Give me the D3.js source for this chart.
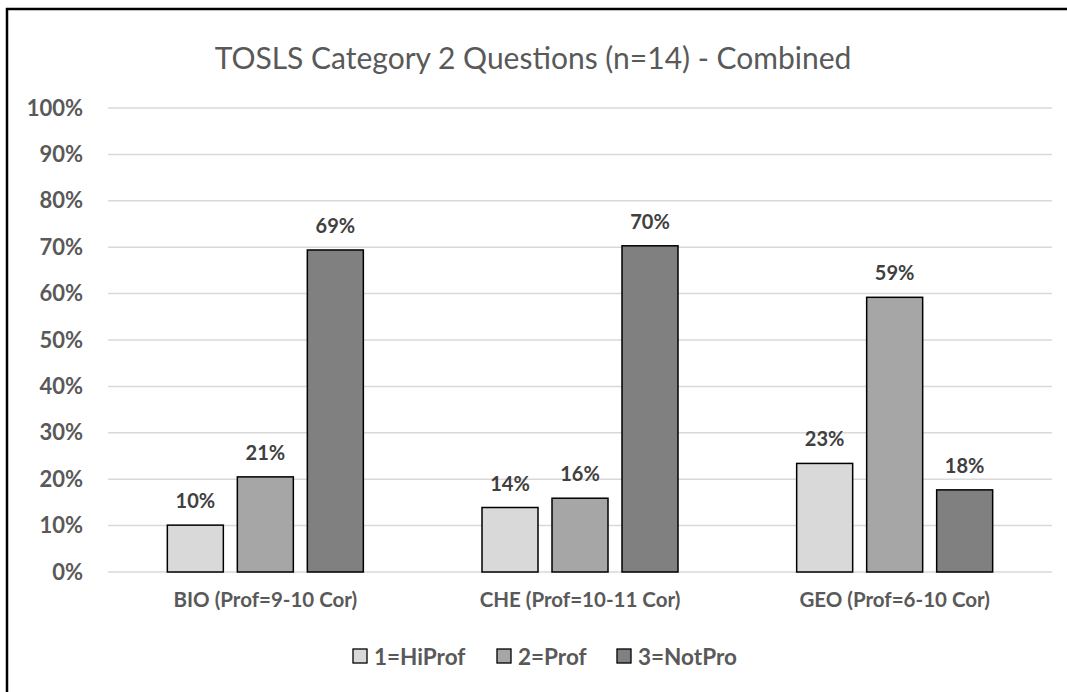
<!DOCTYPE html>
<html>
<head>
<meta charset="utf-8">
<script src="https://cdn.jsdelivr.net/npm/d3@7"></script>
<style>
  body { margin: 0; background: #fff; }
  svg { display: block; font-family: Lato, "Open Sans", sans-serif; }
</style>
</head>
<body>
<div id="chart"></div>
<script>
// chart values
var categories = ["BIO (Prof=9-10 Cor)", "CHE (Prof=10-11 Cor)", "GEO (Prof=6-10 Cor)"];
var seriesNames = ["1=HiProf", "2=Prof", "3=NotPro"];
var seriesColors = ["#d9d9d9", "#a6a6a6", "#808080"];
var hiProf = [0.101, 0.139, 0.234];
var prof = [0.205, 0.159, 0.592];
var notPro = [0.694, 0.703, 0.177];
var yTicks = [0, 0.1, 0.2, 0.3, 0.4, 0.5, 0.6, 0.7, 0.8, 0.9, 1.0];
var title = "TOSLS Category 2 Questions (n=14) - Combined";

var width = 1067, height = 692;
var margin = {top: 108, right: 15, bottom: 120, left: 108};

var svg = d3.select("#chart").append("svg")
  .attr("width", width)
  .attr("height", height);

// frame (left + top edges only are visible)
svg.append("path")
  .attr("d", "M7,692 V9 H1067")
  .attr("fill", "none")
  .attr("stroke", "#000")
  .attr("stroke-width", 2.5);

svg.append("text")
  .attr("x", 533)
  .attr("y", 69)
  .attr("text-anchor", "middle")
  .attr("fill", "#595959")
  .style("font-size", "30px")
  .text(title);

var x0 = d3.scaleBand()
  .domain(categories)
  .range([margin.left, width - margin.right]);

var x1 = d3.scaleBand()
  .domain(seriesNames)
  .range([0, 196])
  .paddingInner(0.2);

var y = d3.scaleLinear()
  .domain([0, 1])
  .range([height - margin.bottom, margin.top]);

// gridlines
svg.append("g")
  .selectAll("line")
  .data(yTicks)
  .enter().append("line")
  .attr("x1", margin.left)
  .attr("x2", width - margin.right)
  .attr("y1", function(d) { return y(d); })
  .attr("y2", function(d) { return y(d); })
  .attr("stroke", "#d9d9d9")
  .attr("stroke-width", 1.5);

// y axis labels
var yAxis = d3.axisLeft(y)
  .tickValues(yTicks)
  .tickFormat(d3.format(".0%"))
  .tickSize(0)
  .tickPadding(0);

var yg = svg.append("g")
  .attr("transform", "translate(83,0)")
  .call(yAxis);
yg.select(".domain").remove();
yg.selectAll("text")
  .attr("fill", "#595959")
  .style("font-family", "Lato, sans-serif")
  .style("font-weight", "bold")
  .style("font-size", "22px");

// x axis labels
var xAxis = d3.axisBottom(x0).tickSize(0).tickPadding(0);
var xg = svg.append("g")
  .attr("transform", "translate(0," + (height - margin.bottom) + ")")
  .call(xAxis);
xg.select(".domain").remove();
xg.selectAll("text")
  .attr("y", 35)
  .attr("dy", 0)
  .attr("fill", "#595959")
  .style("font-family", "Lato, sans-serif")
  .style("font-weight", "bold")
  .style("font-size", "20.5px");

// bars
var allSeries = [hiProf, prof, notPro];
var rows = [];
categories.forEach(function(c, i) {
  seriesNames.forEach(function(s, j) {
    rows.push({cat: c, series: s, idx: j, value: allSeries[j][i]});
  });
});

var groupOffset = (x0.bandwidth() - 196) / 2;

var bars = svg.append("g").selectAll("g.bar")
  .data(rows)
  .enter().append("g")
  .attr("class", "bar");

bars.append("rect")
  .attr("x", function(d) { return x0(d.cat) + groupOffset + x1(d.series); })
  .attr("y", function(d) { return y(d.value); })
  .attr("width", x1.bandwidth())
  .attr("height", function(d) { return y(0) - y(d.value); })
  .attr("fill", function(d) { return seriesColors[d.idx]; })
  .attr("stroke", "#000")
  .attr("stroke-width", 1.5);

bars.append("text")
  .attr("x", function(d) { return x0(d.cat) + groupOffset + x1(d.series) + x1.bandwidth() / 2; })
  .attr("y", function(d) { return y(d.value) - 17; })
  .attr("text-anchor", "middle")
  .attr("fill", "#404040")
  .style("font-weight", "bold")
  .style("font-size", "20px")
  .text(function(d) { return d3.format(".0%")(d.value); });

// legend
var legendX = [353, 497, 617];
var legend = svg.append("g").selectAll("g")
  .data(seriesNames)
  .enter().append("g")
  .attr("transform", function(d, i) { return "translate(" + legendX[i] + ",649)"; });

legend.append("rect")
  .attr("width", 14)
  .attr("height", 14)
  .attr("fill", function(d, i) { return seriesColors[i]; })
  .attr("stroke", "#000")
  .attr("stroke-width", 1.3);

legend.append("text")
  .attr("x", 21)
  .attr("y", 16)
  .attr("fill", "#595959")
  .style("font-weight", "bold")
  .style("font-size", "22.5px")
  .text(function(d) { return d; });
</script>
</body>
</html>
